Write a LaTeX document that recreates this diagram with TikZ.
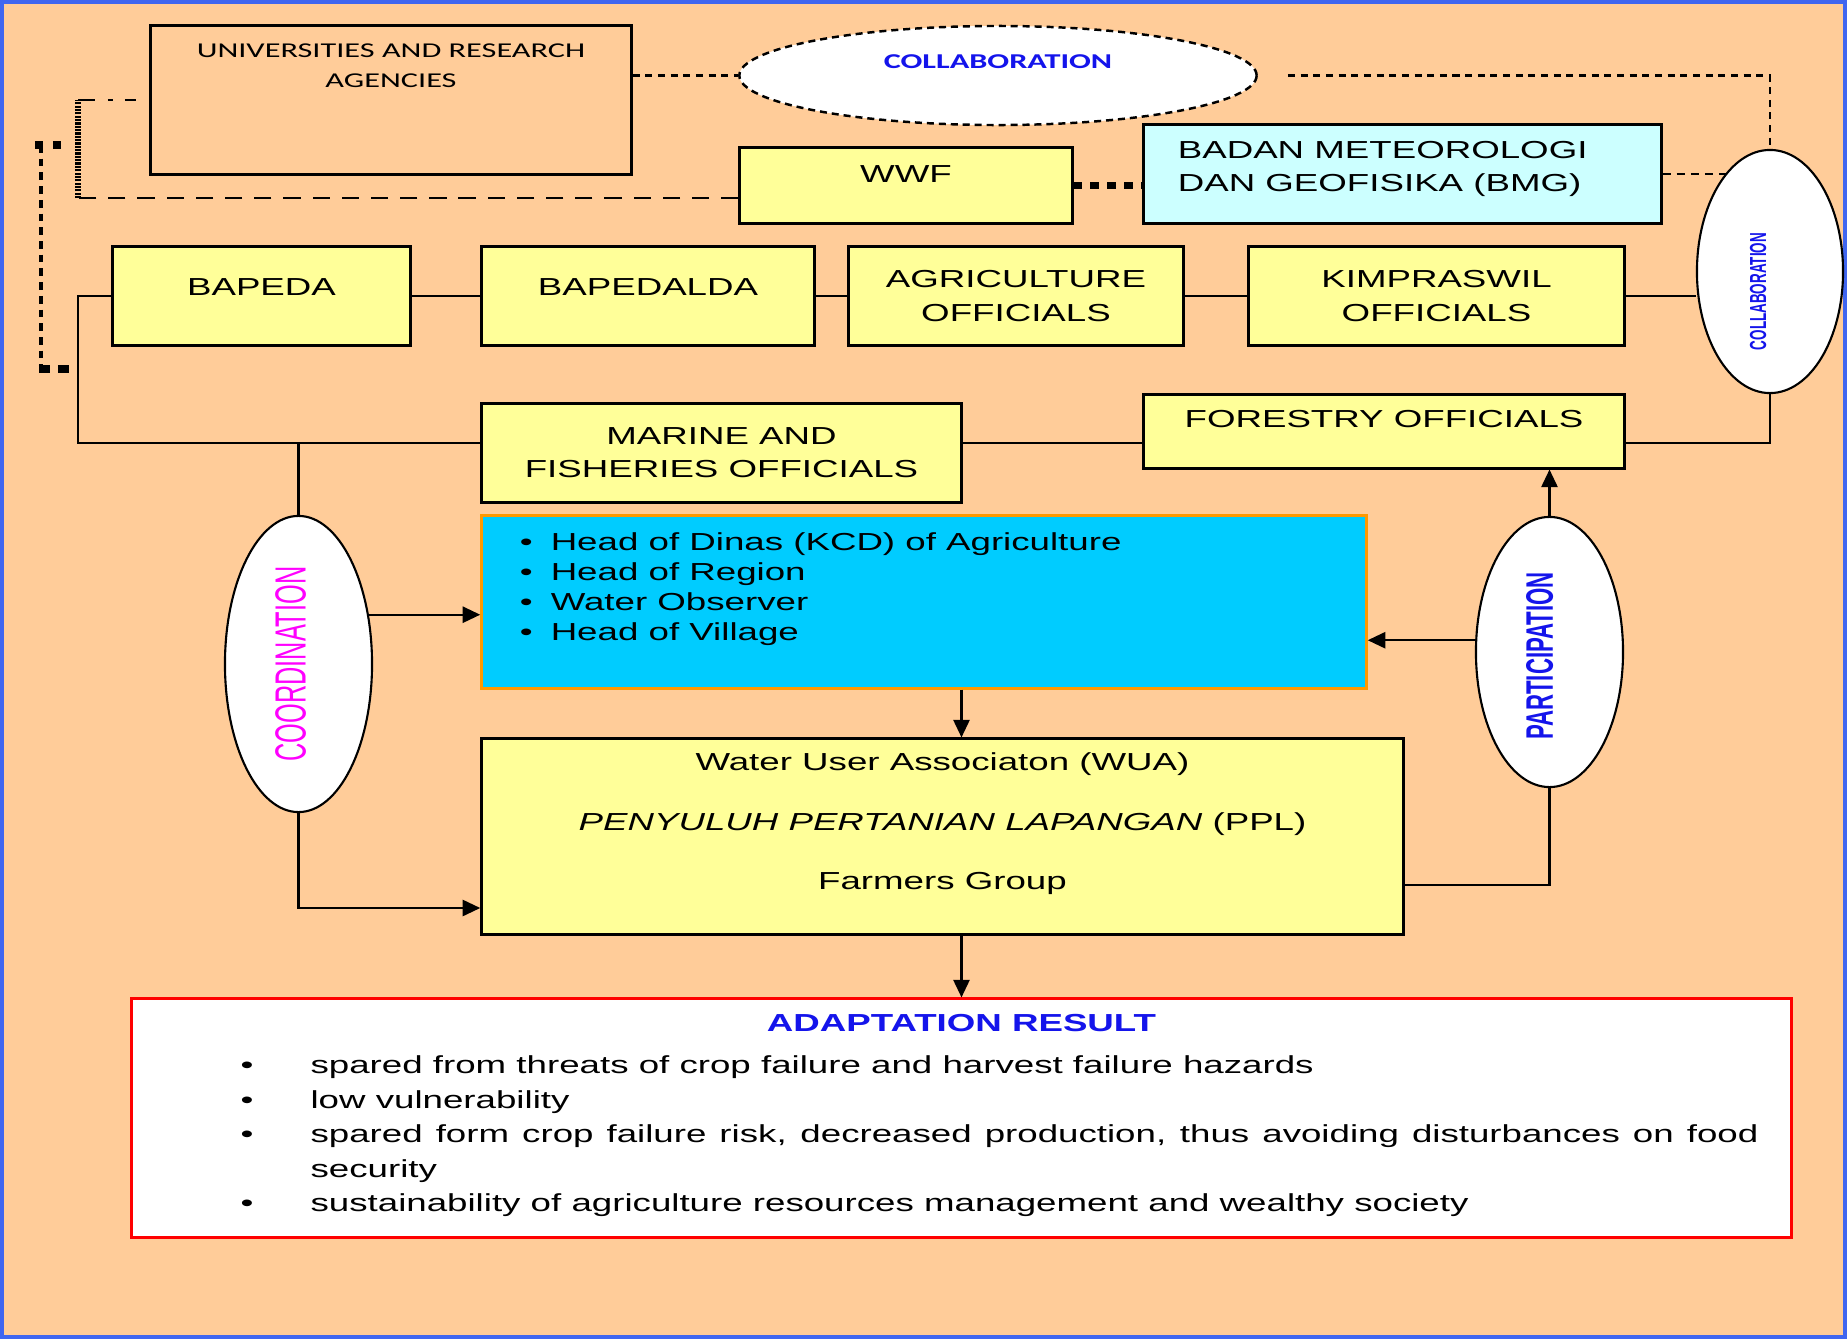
\documentclass[tikz,border=0pt]{standalone}
\usepackage{fontspec}
\setmainfont{Liberation Sans}[FakeStretch=1.49]
\newfontfamily\calfont{Carlito}[FakeStretch=1.53]
\newfontfamily\narrowfont{Liberation Sans}[FakeStretch=0.58]
\usepackage{graphicx}
\usetikzlibrary{arrows.meta,shapes.geometric}

\definecolor{peach}{RGB}{255,204,153}
\definecolor{frameblue}{RGB}{64,102,240}
\definecolor{paleyellow}{RGB}{255,255,153}
\definecolor{paleblue}{RGB}{204,255,255}
\definecolor{skyblue}{RGB}{0,204,255}
\definecolor{amber}{RGB}{255,153,0}
\definecolor{inkblue}{RGB}{20,20,235}
\definecolor{pinkish}{RGB}{255,0,255}

\tikzset{
  plainbox/.style={draw, line width=0.85pt, inner sep=0pt},
  ybox/.style={plainbox, fill=paleyellow, align=center, font=\fontsize{7}{9.4}\selectfont},
  oval/.style={ellipse, draw, line width=0.6pt, fill=white, inner sep=0pt},
  capsup/.style={text height=5pt, text depth=#1},
  wire/.style={line width=0.6pt},
  arr/.style={wire, ->},
  dashline/.style={line width=0.6pt, dash pattern=on 2pt off 1.6pt},
  heavydash/.style={line width=0.85pt, dash pattern=on 4.9pt off 3.4pt},
  squaredots/.style={line width=2pt, dash pattern=on 2.5pt off 2.3pt},
}

\begin{document}
\begin{tikzpicture}[x=0.01cm, y=-0.01cm, >={Triangle[length=5pt,width=4.6pt]}]
\useasboundingbox (0,0) rectangle (1847,1339);
\fill[peach] (0,0) rectangle (1847,1339);
\draw[frameblue, line width=1.1pt] (2,2) rectangle (1845,1337);

% top: universities, collaboration, WWF, BMG
\node[plainbox, minimum width=4.8cm, minimum height=1.48cm] (univ) at (391,100)
  {\parbox[c][1.48cm][t]{4.8cm}{\centering\calfont\fontsize{6}{8.5}\selectfont\vspace*{0.18cm}UNIVERSITIES AND RESEARCH\\AGENCIES}};
\node[oval, line width=0.7pt, dash pattern=on 2pt off 1.4pt, minimum width=5.17cm, minimum height=0.99cm,
  text height=3.9pt, text depth=0.28cm, text=inkblue, font=\calfont\bfseries\fontsize{6}{7}\selectfont] (collab) at (998,75.5) {COLLABORATION};
\node[ybox, capsup=0.24cm, minimum width=3.32cm, minimum height=0.75cm] (wwf) at (906,185.5) {WWF};
\node[plainbox, fill=paleblue, minimum width=5.17cm, minimum height=0.98cm] (bmg) at (1402.5,174)
  {\parbox[c][0.98cm][t]{5.17cm}{\fontsize{7}{9.4}\selectfont\vspace*{0.16cm}\leftskip=0.34cm BADAN METEOROLOGI\\DAN GEOFISIKA (BMG)}};
\node[oval, minimum width=1.46cm, minimum height=2.43cm] (rcollab) at (1770,271.5)
  {\rotatebox{90}{\narrowfont\bfseries\fontsize{6.6}{6.6}\selectfont\color{inkblue}\rule[-0.24cm]{0pt}{0.24cm}COLLABORATION\hspace{0.4cm}}};

% offices
\node[ybox, capsup=0.18cm, minimum width=2.97cm, minimum height=0.98cm] (bapeda) at (261.5,296) {BAPEDA};
\node[ybox, capsup=0.18cm, minimum width=3.32cm, minimum height=0.98cm] (bapedalda) at (648,296) {BAPEDALDA};
\node[ybox, minimum width=3.34cm, minimum height=0.98cm] (agri) at (1016,296) {AGRICULTURE\\OFFICIALS};
\node[ybox, minimum width=3.75cm, minimum height=0.98cm] (kimp) at (1436.5,296) {KIMPRASWIL\\OFFICIALS};
\node[ybox, minimum width=4.79cm, minimum height=0.98cm] (marine) at (721.5,453) {MARINE AND\\FISHERIES OFFICIALS};
\node[ybox, capsup=0.25cm, minimum width=4.8cm, minimum height=0.73cm] (forestry) at (1384,431.5) {FORESTRY OFFICIALS};

% coordination, local heads, participation
\node[oval, minimum width=1.47cm, minimum height=2.96cm] (coord) at (298.5,664)
  {\rotatebox{90}{\narrowfont\fontsize{12.4}{12.4}\selectfont\color{pinkish}\rule[-0.16cm]{0pt}{0.16cm}COORDINATION}};
\node[draw=amber, line width=0.85pt, fill=skyblue, inner sep=0pt, minimum width=8.84cm, minimum height=1.72cm] (heads) at (924,602)
  {\parbox[c][1.72cm][t]{8.84cm}{\fontsize{7}{8.5}\selectfont\vspace*{0.17cm}\leftskip=0.38cm
   \makebox[0.31cm][l]{\textbullet}Head of Dinas (KCD) of Agriculture\\
   \makebox[0.31cm][l]{\textbullet}Head of Region\\
   \makebox[0.31cm][l]{\textbullet}Water Observer\\
   \makebox[0.31cm][l]{\textbullet}Head of Village}};
\node[oval, minimum width=1.47cm, minimum height=2.70cm] (part) at (1549.5,652)
  {\rotatebox{90}{\narrowfont\bfseries\fontsize{10.9}{10.9}\selectfont\color{inkblue}\rule[-0.2cm]{0pt}{0.2cm}PARTICIPATION\hspace{0.08cm}}};
\node[plainbox, fill=paleyellow, minimum width=9.21cm, minimum height=1.95cm] (wua) at (942.5,836.5)
  {\parbox[c][1.95cm][t]{9.21cm}{\centering\fontsize{7}{17}\selectfont\vspace*{0.135cm}Water User Associaton (WUA)\\
   \textit{PENYULUH PERTANIAN LAPANGAN} (PPL)\\Farmers Group}};

% result
\node[draw=red, line width=0.85pt, fill=white, inner sep=0pt, minimum width=16.59cm, minimum height=2.38cm] (result) at (961.5,1118)
  {\parbox[c][2.38cm][t]{16.59cm}{\fontsize{7}{9.8}\selectfont\vspace*{0.15cm}
   {\centering\color{inkblue}\bfseries ADAPTATION RESULT\par}
   \vspace{2.3pt}
   \hspace*{1.09cm}\begin{tabular}[t]{@{}p{0.7cm}@{}l@{}}
   \textbullet & spared from threats of crop failure and harvest failure hazards\\
   \textbullet & low vulnerability\\
   \textbullet & \makebox[14.47cm][s]{spared form crop failure risk, decreased production, thus avoiding disturbances on food}\\
    & security\\
   \textbullet & sustainability of agriculture resources management and wealthy society
   \end{tabular}}};

% bracket coordinates on the left
\coordinate (wwfl) at (78,198);
\coordinate (unil) at (78,100);
\coordinate (otop) at (41,145);
\coordinate (obot) at (41,369);
\coordinate (lft) at (78,443);
\coordinate (cbot) at (298.5,908);
\coordinate (pbot) at (1549.5,885);

% collaboration links
\draw[dashline] (collab.west -| univ.east) -- (collab.west);
\draw[dashline, shorten <=0.3cm] (collab.east) -- (collab.east -| rcollab.north) -- (rcollab.north);
\draw[heavydash, dash pattern=on 2.3pt off 1.7pt] (bmg.east) -- (bmg.east -| rcollab.114);
\draw[squaredots] (wwf.east) -- (bmg.west |- wwf.east);
\draw[heavydash] (wwf.west |- wwfl) -- (wwfl);
\draw[line width=1.7pt, dash pattern=on 0.6pt off 0.35pt] (wwfl) -- (unil);
\draw[line width=0.6pt, dash pattern=on 4.8pt off 3.7pt on 1.4pt off 3.4pt, shorten >=0.13cm] (unil) -- (univ.west);
\draw[line width=1.1pt, dash pattern=on 2.2pt off 1.7pt] (otop) -- (obot);
\draw[line width=2pt, dash pattern=on 2.3pt off 2.8pt] ([xshift=-0.06cm]otop) -- ++(28,0);
\draw[line width=2.2pt, dash pattern=on 3.1pt off 2.3pt] ([xshift=-0.02cm]obot) -- ++(30,0);

% office lines
\draw[wire] (bapeda.west) -| (lft) -- (lft -| marine.west);
\draw[wire] (bapeda.east) -- (bapedalda.west);
\draw[wire] (bapedalda.east) -- (agri.west);
\draw[wire] (agri.east) -- (kimp.west);
\draw[wire] (kimp.east) -- (kimp.east -| rcollab.west);
\draw[wire] (marine.east |- lft) -- (forestry.west |- lft);
\draw[wire] (forestry.east |- lft) -| (rcollab.south);
\draw[wire] (coord.north |- lft) -- (coord.north);

% arrows
\draw[arr] (coord.35) -- (coord.35 -| heads.west);
\draw[arr] (coord.south) |- (cbot -| wua.west);
\draw[arr] (part.north) -- (part.north |- forestry.south);
\draw[arr] (part.171) -- (part.171 -| heads.east);
\draw[wire] (part.south) |- (pbot -| wua.east);
\draw[arr] (heads.south -| result.north) -- (wua.north -| result.north);
\draw[arr] (wua.south -| result.north) -- (result.north);

\end{tikzpicture}
\end{document}
